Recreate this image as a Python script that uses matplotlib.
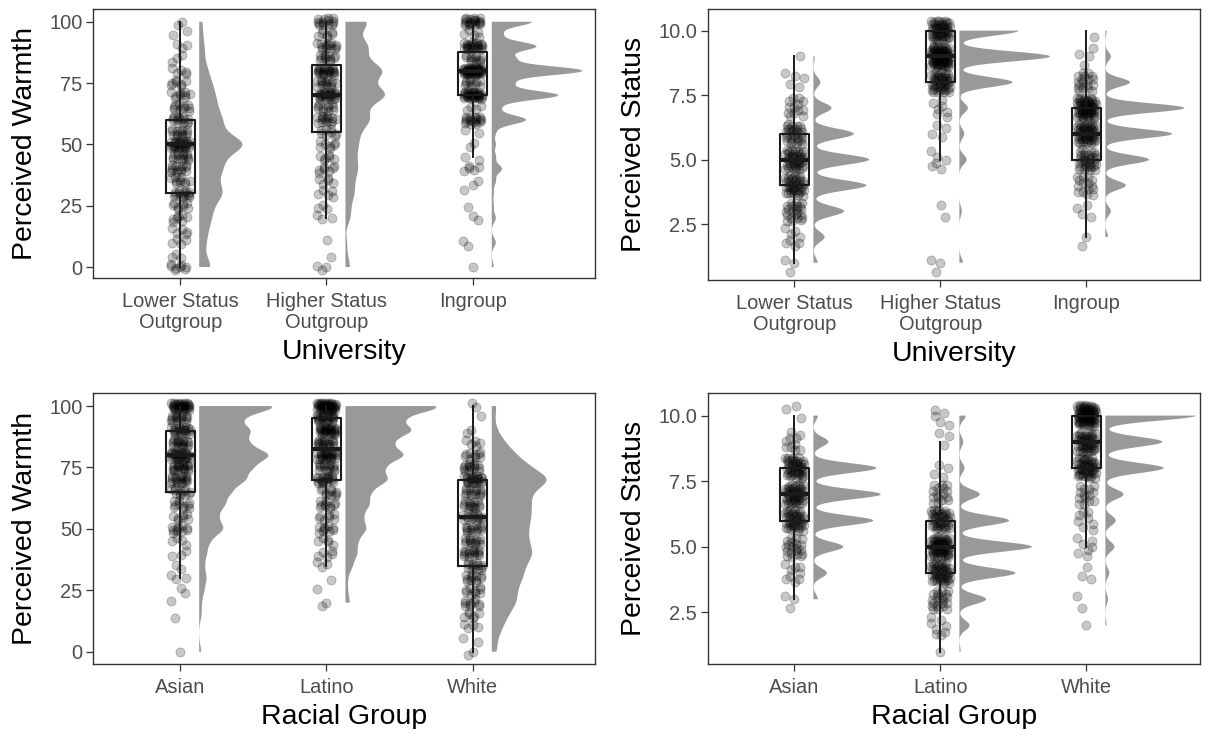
import matplotlib
import numpy as np

matplotlib.use("Agg")
import matplotlib.pyplot as plt  # noqa: E402

plt.rcParams["font.family"] = ["Liberation Sans", "DejaVu Sans"]

# response levels (warmth slider in steps of 5, status ladder 1-10)
WARMTH_LEVELS = [0, 5, 10, 15, 20, 25, 30, 35, 40, 45, 50,
                 55, 60, 65, 70, 75, 80, 85, 90, 95, 100]
STATUS_LEVELS = [1, 2, 3, 4, 5, 6, 7, 8, 9, 10]

UNIV_LABELS = ["Lower Status\nOutgroup", "Higher Status\nOutgroup", "Ingroup"]
RACE_LABELS = ["Asian", "Latino", "White"]

# counts of responses per level
warmth_lower = [8, 3, 4, 5, 7, 8, 14, 10, 13, 14, 28, 13, 13, 10, 9, 7, 5, 3, 3, 2, 2]
warmth_higher = [3, 1, 1, 0, 3, 3, 5, 5, 7, 6, 7, 8, 14, 11, 24, 14, 22, 11, 13, 7, 14]
warmth_ingroup = [1, 0, 2, 0, 2, 1, 1, 2, 5, 2, 2, 2, 17, 4, 33, 10, 45, 11, 22, 5, 20]

status_lower = [3, 8, 22, 38, 40, 29, 13, 5, 1, 0]
status_higher = [3, 0, 2, 0, 6, 4, 7, 44, 75, 49]
status_ingroup = [0, 2, 4, 15, 32, 49, 58, 18, 4, 1]

warmth_asian = [1, 0, 0, 1, 1, 2, 3, 2, 3, 4, 10, 7, 10, 12, 18, 20, 28, 18, 20, 15, 33]
warmth_latino = [0, 0, 0, 0, 2, 1, 1, 3, 5, 5, 9, 7, 10, 10, 18, 15, 25, 18, 28, 22, 43]
warmth_white = [2, 2, 4, 6, 9, 9, 11, 12, 15, 13, 13, 14, 14, 14, 22, 14, 9, 5, 2, 1, 2]

status_asian = [0, 0, 3, 9, 20, 40, 45, 42, 10, 3]
status_latino = [1, 8, 21, 44, 57, 39, 16, 4, 3, 5]
status_white = [0, 1, 2, 3, 7, 8, 14, 45, 44, 70]

VIOLIN_NUDGE = 0.13
VIOLIN_WIDTH = 0.62
BOX_WIDTH = 0.2
JITTER_W = 0.065
TICK_COLOR = "#4D4D4D"


def nrd0(x):
    sd = np.std(x, ddof=1)
    q25, q75 = np.percentile(x, [25, 75])
    lo = min(sd, (q75 - q25) / 1.34)
    if lo <= 0:
        lo = sd
    return 0.9 * lo * len(x) ** -0.2


def trimmed_kde(x, bw, n=512):
    grid = np.linspace(x.min(), x.max(), n)
    z = (grid[:, None] - x[None, :]) / bw
    dens = np.exp(-0.5 * z ** 2).sum(axis=1) / (len(x) * bw * np.sqrt(2 * np.pi))
    return grid, dens


def raincloud(ax, levels, groups, labels, xlim, ylim, yticks, yticklabels,
              xlabel, ylabel, adjust, jitter_h):
    samples = [np.repeat(levels, c).astype(float) for c in groups]
    curves = [trimmed_kde(s, adjust * nrd0(s)) for s in samples]
    dmax = max(d.max() for _, d in curves)

    for i, (s, (g, d)) in enumerate(zip(samples, curves), start=1):
        x0 = i + VIOLIN_NUDGE
        ax.fill_betweenx(g, x0, x0 + d / dmax * VIOLIN_WIDTH,
                         facecolor="#999999", edgecolor="none", zorder=1)

        # deterministic jitter (R2 low-discrepancy sequence)
        k = np.arange(len(s))
        jx = ((0.5 + k * 0.7548776662) % 1) * 2 - 1
        jy = ((0.5 + k * 0.5698402910) % 1) * 2 - 1
        ax.scatter(i + jx * JITTER_W, s + jy * jitter_h, s=42, c="black",
                   alpha=0.22, linewidths=0.7, edgecolors="black", zorder=2)

        ax.boxplot(s, positions=[i], widths=BOX_WIDTH, whis=1.5,
                   showfliers=False, showcaps=False, manage_ticks=False,
                   boxprops=dict(color="#1a1a1a", linewidth=1.5),
                   whiskerprops=dict(color="#1a1a1a", linewidth=1.4),
                   medianprops=dict(color="#1a1a1a", linewidth=3.0),
                   zorder=3)

    ax.set_xlim(*xlim)
    ax.set_ylim(*ylim)
    ax.set_xticks([1, 2, 3])
    ax.set_xticklabels(labels, linespacing=1.15)
    ax.set_yticks(yticks)
    ax.set_yticklabels(yticklabels)
    ax.tick_params(axis="both", colors="#333333", labelcolor=TICK_COLOR,
                   labelsize=14.4, length=4.8, width=0.9, pad=3)
    ax.tick_params(axis="x", pad=5)
    for sp in ax.spines.values():
        sp.set_color("#333333")
        sp.set_linewidth(1.0)
    ax.set_xlabel(xlabel, fontsize=20.5, labelpad=5)
    ax.set_ylabel(ylabel, fontsize=20.5, labelpad=8)


def main():
    W, H = 1215, 729
    fig = plt.figure(figsize=(W / 100, H / 100), dpi=100)

    def box(l, r, t, b):
        return [l / W, 1 - b / H, (r - l) / W, (b - t) / H]

    ax1 = fig.add_axes(box(93.4, 595.2, 9, 278.3))
    ax2 = fig.add_axes(box(708, 1200, 9, 280))
    ax3 = fig.add_axes(box(93.4, 595.2, 393.3, 664))
    ax4 = fig.add_axes(box(708, 1200, 393.3, 664))

    w_ticks = [0, 25, 50, 75, 100]
    w_labels = ["0", "25", "50", "75", "100"]
    s_ticks = [2.5, 5.0, 7.5, 10.0]
    s_labels = ["2.5", "5.0", "7.5", "10.0"]

    raincloud(ax1, WARMTH_LEVELS, [warmth_lower, warmth_higher, warmth_ingroup],
              UNIV_LABELS, (0.407, 3.837), (-4.6, 105.2), w_ticks, w_labels,
              "University", "Perceived Warmth", adjust=0.45, jitter_h=1.6)
    raincloud(ax2, STATUS_LEVELS, [status_lower, status_higher, status_ingroup],
              UNIV_LABELS, (0.408, 3.778), (0.33, 10.84), s_ticks, s_labels,
              "University", "Perceived Status", adjust=0.4, jitter_h=0.4)
    raincloud(ax3, WARMTH_LEVELS, [warmth_asian, warmth_latino, warmth_white],
              RACE_LABELS, (0.407, 3.837), (-5.0, 105.2), w_ticks, w_labels,
              "Racial Group", "Perceived Warmth", adjust=0.45, jitter_h=1.6)
    raincloud(ax4, STATUS_LEVELS, [status_asian, status_latino, status_white],
              RACE_LABELS, (0.408, 3.778), (0.53, 10.85), s_ticks, s_labels,
              "Racial Group", "Perceived Status", adjust=0.4, jitter_h=0.4)

    fig.savefig("out.png", dpi=100)
    plt.close(fig)


if __name__ == "__main__":
    main()
